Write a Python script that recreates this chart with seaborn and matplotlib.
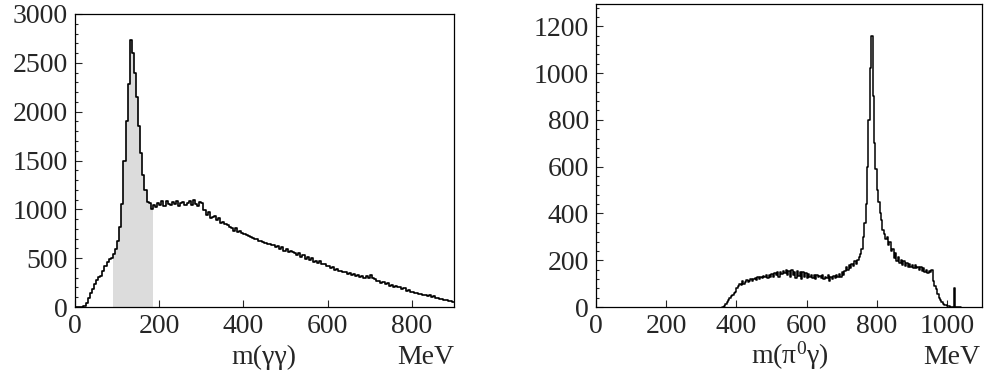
import numpy as np
import pandas as pd
import matplotlib
matplotlib.use("Agg")
import matplotlib.pyplot as plt
import seaborn as sns
from matplotlib.ticker import MultipleLocator

# m(gamma gamma) histogram, 5 MeV bins from 0 to 900
gg_start = 0
gg_width = 5
gg_counts = [
    0, 0, 0, 0, 10, 45, 90, 140, 185, 235,
    280, 305, 320, 370, 420, 460, 495, 505, 540, 590,
    680, 820, 1050, 1500, 1900, 2280, 2730, 2600, 2400, 2150,
    1850, 1580, 1350, 1200, 1080, 1060, 1000, 1045, 1025, 1070,
    1040, 1085, 1035, 1090, 1055, 1045, 1080, 1050, 1090, 1030,
    1065, 1080, 1040, 1070, 1085, 1045, 1100, 1055, 1030, 1080,
    1060, 990, 945, 970, 915, 925, 935, 895, 915, 865,
    870, 845, 840, 815, 810, 780, 805, 765, 775, 760,
    750, 735, 730, 715, 710, 700, 695, 675, 680, 665,
    660, 645, 650, 635, 630, 615, 620, 595, 610, 575,
    595, 565, 570, 560, 555, 530, 555, 515, 535, 495,
    515, 485, 505, 465, 470, 455, 475, 440, 445, 420,
    425, 400, 410, 375, 385, 365, 370, 355, 360, 340,
    345, 330, 340, 315, 330, 305, 315, 295, 320, 300,
    325, 295, 290, 265, 270, 250, 255, 240, 245, 220,
    228, 210, 218, 200, 205, 185, 190, 165, 172, 155,
    158, 140, 148, 130, 136, 120, 125, 112, 118, 104,
    108, 95, 97, 82, 85, 72, 72, 62, 60, 52,
]
# shaded pi0 window
pi0_lo = 90
pi0_hi = 185

# m(pi0 gamma) histogram, 4 MeV bins from 360
pg_start = 360
pg_width = 4
pg_counts = [
    0, 5, 12, 22, 30, 38, 45, 52, 58, 65,
    80, 88, 100, 92, 110, 100, 105, 115, 108, 112,
    120, 110, 118, 125, 115, 128, 120, 130, 125, 132,
    128, 135, 125, 138, 130, 142, 128, 145, 135, 148,
    130, 150, 140, 155, 145, 160, 138, 155, 130, 158,
    135, 150, 125, 155, 132, 148, 120, 150, 128, 145,
    122, 140, 128, 138, 125, 135, 120, 138, 128, 132,
    122, 135, 118, 130, 125, 135, 110, 128, 118, 132,
    125, 138, 128, 140, 130, 148, 135, 155, 170, 160,
    180, 168, 185, 175, 195, 182, 200, 215, 225, 250,
    300, 360, 440, 600, 800, 1020, 1160, 900, 700, 590,
    500, 450, 400, 370, 330, 310, 290, 300, 265, 280,
    240, 250, 210, 230, 195, 215, 190, 200, 180, 195,
    175, 190, 170, 185, 172, 180, 165, 178, 168, 172,
    160, 170, 155, 165, 150, 160, 145, 155, 150, 160,
    110, 90, 75, 55, 40, 30, 20, 15, 10, 8,
    5, 3, 2, 2, 1, 80, 0, 0, 0, 0,
]

sns.set_style("ticks")
plt.rcParams["font.family"] = ["Liberation Serif", "DejaVu Serif"]
plt.rcParams["mathtext.fontset"] = "custom"
plt.rcParams["mathtext.rm"] = "Liberation Serif"
plt.rcParams["mathtext.it"] = "Liberation Serif:italic"

gg_edges = gg_start + gg_width * np.arange(len(gg_counts) + 1)
gg = pd.DataFrame({"m": gg_edges[:-1] + gg_width / 2, "n": gg_counts})

pg_edges = pg_start + pg_width * np.arange(len(pg_counts) + 1)
pg = pd.DataFrame({"m": pg_edges[:-1] + pg_width / 2, "n": pg_counts})

fig = plt.figure(figsize=(9.84, 3.73), dpi=100)
ax1 = fig.add_axes([0.0762, 0.1769, 0.3852, 0.7856])
ax2 = fig.add_axes([0.6057, 0.1769, 0.3923, 0.8123])

# left panel: shaded window first, outline on top
win = gg[(gg["m"] > pi0_lo) & (gg["m"] < pi0_hi)]
win_edges = [e for e in gg_edges if pi0_lo <= e <= pi0_hi]
sns.histplot(data=win, x="m", weights="n", bins=win_edges,
             element="step", fill=True, color="#dcdcdc", alpha=1,
             linewidth=0, ax=ax1)
sns.histplot(data=gg, x="m", weights="n", bins=list(gg_edges),
             element="step", fill=False, color="black", linewidth=1.2, ax=ax1)
ax1.set_xlim(0, 900)
ax1.set_ylim(0, 3000)
ax1.yaxis.set_major_locator(MultipleLocator(500))
ax1.yaxis.set_minor_locator(MultipleLocator(100))
ax1.xaxis.set_major_locator(MultipleLocator(200))

# right panel
sns.histplot(data=pg, x="m", weights="n", bins=list(pg_edges),
             element="step", fill=False, color="black", linewidth=1.1, ax=ax2)
ax2.set_xlim(0, 1100)
ax2.set_ylim(0, 1295)
ax2.yaxis.set_major_locator(MultipleLocator(200))
ax2.yaxis.set_minor_locator(MultipleLocator(40))
ax2.xaxis.set_major_locator(MultipleLocator(200))

for ax in (ax1, ax2):
    ax.set_xlabel("")
    ax.set_ylabel("")
    ax.tick_params(axis="both", which="both", direction="in", top=False,
                   right=False, labelsize=20, width=0.8)
    ax.tick_params(axis="both", which="major", length=5, pad=5)
    ax.tick_params(axis="y", which="minor", length=2.5)
    ax.tick_params(axis="x", which="minor", bottom=False)
    for s in ax.spines.values():
        s.set_linewidth(0.9)
        s.set_color("black")

fig.text(0.268, 0.024, "m(γγ)", ha="center", va="baseline", fontsize=20)
fig.text(0.4614, 0.024, "MeV", ha="right", va="baseline", fontsize=20)
fig.text(0.803, 0.024, "m(π$^0$γ)", ha="center", va="baseline", fontsize=20)
fig.text(0.996, 0.024, "MeV", ha="right", va="baseline", fontsize=20)

fig.savefig("out.png", dpi=100)
